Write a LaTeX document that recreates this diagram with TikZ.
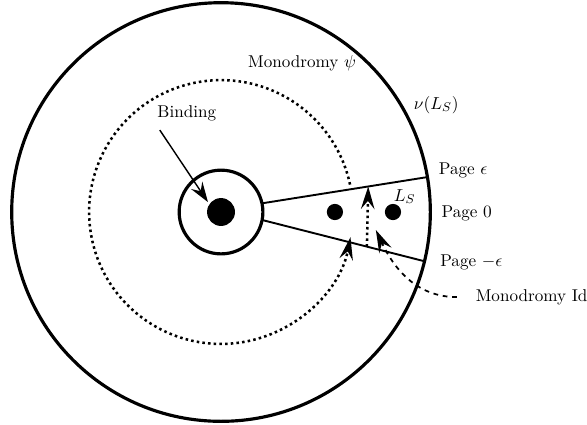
\documentclass[tikz,border=0pt]{standalone}
\usepackage{tkz-euclide}
\usetikzlibrary{arrows.meta}

\tikzset{
  every node/.style={font=\fontsize{10.8pt}{13pt}\selectfont},
  bigline/.style={line width=2pt,black},
  pageline/.style={line width=1.2pt,black},
  bindarrow/.style={line width=0.9pt,-{Stealth[length=4.5mm,width=3mm,inset=1.6mm]}},
  monoarrow/.style={line width=1.6pt,dotted,-{Stealth[length=5mm,width=3mm,inset=1.8mm]}},
  idarrow/.style={line width=1.1pt,dashed,-{Stealth[length=5mm,width=3mm,inset=1.8mm]}},
}

\begin{document}
\begin{tikzpicture}
\useasboundingbox (-4.91,-4.71) rectangle (8.13,4.71);

\tkzDefPoints{0/0/O,4.65/0/R,0.93/0/S,0.31/0/D}
\tkzDefPoints{0.910/0.193/A1,4.585/0.776/B1,0.913/-0.177/A2,4.520/-1.094/B2}
\tkzDefPoints{2.53/0/L1,2.71/0/E1,3.82/0/L2,4.00/0/E2}
\tkzDefPoints{2.866/0.609/M,3.24/-0.768/N1,3.27/0.567/N2}
\tkzDefPoints{5.24/-1.89/I1,3.44/-0.40/I2,-1.36/1.82/K1,-0.29/0.22/K2}

% boundary, binding neighbourhood and binding
\tkzDrawCircle[bigline](O,R)
\tkzDrawCircle[bigline](O,S)
\tkzFillCircle[black](O,D)

% pages
\tkzDrawSegment[pageline](A1,B1)
\tkzDrawSegment[pageline](A2,B2)

% the knot L_S
\tkzFillCircle[black](L1,E1)
\tkzFillCircle[black](L2,E2)

% monodromies
\draw[monoarrow] (M) arc[start angle=12,end angle=349,radius=2.93];
\draw[monoarrow] (N1) -- (N2);
\draw[idarrow] (I1) to[out=180,in=-65] (I2);
\draw[bindarrow] (K1) -- (K2);

\node (psi) at (1.80,3.31) {Monodromy $\psi$};
\node (nu) at (4.78,2.38) {$\nu(L_S)$};
\node (bind) at (-0.76,2.2) {Binding};
\node (pe) at (5.38,0.93) {Page $\epsilon$};
\node (pzero) at (5.46,-0.04) {Page $0$};
\node (pme) at (5.56,-1.13) {Page $-\epsilon$};
\node (monoid) at (6.90,-1.89) {Monodromy Id};
\node (ls) at (4.08,0.34) {$L_S$};

\end{tikzpicture}
\end{document}
